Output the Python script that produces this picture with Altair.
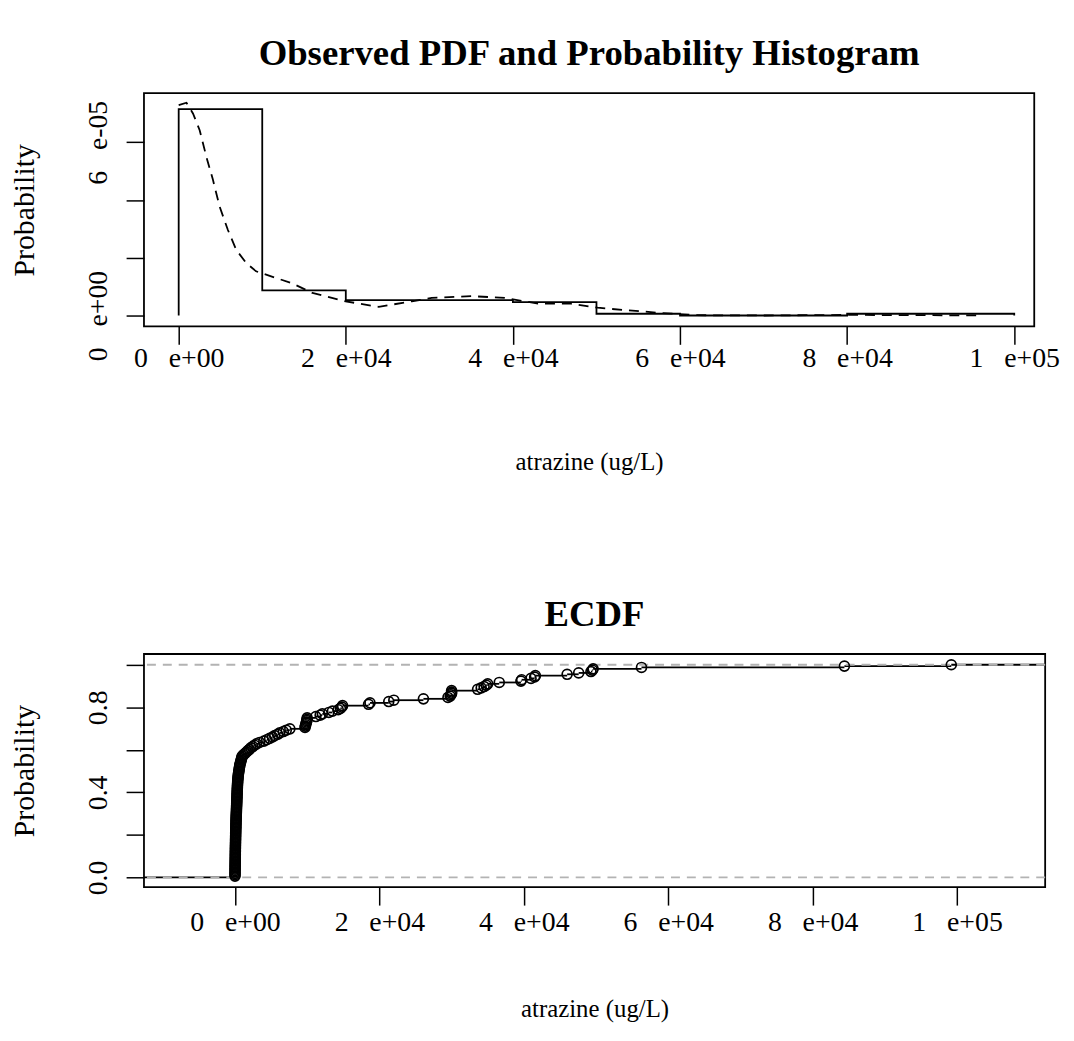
import altair as alt
import pandas as pd

NB = "\u00a0\u00a0\u00a0"

# ---------------- data ----------------
bin_edges = [0, 10000, 20000, 30000, 40000, 50000, 60000, 70000, 80000, 90000, 100000]
hist_density = [7.15e-5, 8.7e-6, 5.3e-6, 5.3e-6, 4.6e-6, 6e-7, 0.0, 0.0, 6e-7, 6e-7]

dens_x = [0, 930, 1710, 2510, 3310, 4100, 4890, 5880, 6880, 8070, 9260, 11240, 13620,
          16000, 19980, 23940, 27900, 30290, 35050, 39020, 43000, 46950, 50130, 51680,
          57630, 62000, 70000, 80000, 90000, 96000]
dens_y = [7.29e-5, 7.37e-5, 7.0e-5, 6.42e-5, 5.50e-5, 4.70e-5, 3.78e-5, 2.97e-5, 2.28e-5,
          1.82e-5, 1.53e-5, 1.34e-5, 1.11e-5, 7.8e-6, 4.9e-6, 3.0e-6, 4.9e-6, 6.1e-6,
          6.7e-6, 6.1e-6, 4.1e-6, 4.1e-6, 2.7e-6, 2.3e-6, 9e-7, 1e-7, 0.0, 2e-7, 1e-7, 0.0]

ecdf_values = [
    5, 8, 10, 12, 15, 18, 20, 22, 25, 28, 30, 33, 36, 40, 42, 45, 48, 50, 53, 56,
    60, 63, 66, 70, 74, 78, 80, 84, 88, 92, 96, 100, 105, 110, 115, 120, 125, 130,
    135, 140, 146, 152, 160, 166, 172, 180, 190, 200,
    205, 210, 218, 225, 232, 240, 248, 255, 262, 270, 278, 285, 292, 300, 308, 316,
    325, 334, 343, 352, 362, 372, 385, 400,
    420, 440, 460, 485, 510, 540, 570, 600, 630, 660, 700,
    750, 800, 850, 900, 950, 1000,
    1200, 1400, 1600, 1800, 2000, 2200, 2450, 2700, 3000, 3400, 4000, 4400, 4800,
    5200, 5500, 5900, 6200, 6700, 7100, 7600,
    9700, 9750, 9800, 9850, 9900, 9950, 9980, 10000,
    11200, 11800, 12100, 13000, 13500, 14300, 14600, 14800, 14900,
    18500, 18700, 21300, 22000, 26100, 29500,
    29800, 29900, 30000, 30000, 30000, 33600, 34100, 34500, 34800, 35000,
    36600, 39600, 39700, 41000, 41500, 41600, 46000, 47600,
    49300, 49500, 49600, 56300, 84400, 99200,
]

top_x_ticks = [0, 20000, 40000, 60000, 80000, 100000]
top_x_text = ["0" + NB + "e+00", "2" + NB + "e+04", "4" + NB + "e+04",
              "6" + NB + "e+04", "8" + NB + "e+04", "1" + NB + "e+05"]
top_y_ticks = [0, 2e-5, 4e-5, 6e-5]
top_y_text = ["0" + NB + "e+00", "", "", "6" + NB + "e-05"]
bot_y_ticks = [0, 0.2, 0.4, 0.6, 0.8, 1.0]
bot_y_text = ["0.0", "", "0.4", "", "0.8", ""]

FONT = "Liberation Serif"


def label_expr(vals, texts, tol):
    expr = "''"
    for v, t in reversed(list(zip(vals, texts))):
        expr = f"(abs(datum.value - ({v})) < {tol} ? '{t}' : {expr})"
    return expr


# ---------------- derived tables ----------------
hx, hy = [bin_edges[0]], [0.0]
for i, h in enumerate(hist_density):
    hx += [bin_edges[i], bin_edges[i + 1]]
    hy += [h, h]
hx.append(bin_edges[-1])
hy.append(0.0)
hist_df = pd.DataFrame({"x": hx, "y": hy, "o": list(range(len(hx)))})
dens_df = pd.DataFrame({"x": dens_x, "y": dens_y, "o": list(range(len(dens_x)))})

TOP_XDOM = [-4155, 102393]
TOP_YDOM = [-0.38e-5, 7.70e-5]
BOT_XDOM = [-12600, 112200]
BOT_YDOM = [-0.046, 1.0506]

vals = sorted(ecdf_values)
n = len(vals)
ps = [(i + 1) / n for i in range(n)]
seg_x = [BOT_XDOM[0]] + vals
seg_x2 = vals + [BOT_XDOM[1]]
seg_y = [0.0] + ps
seg_df = pd.DataFrame({"x": seg_x, "x2": seg_x2, "y": seg_y})
pts_df = pd.DataFrame({"x": vals, "y": ps})
hl_df = pd.DataFrame({"y": [0.0, 1.0]})

axis_common = dict(
    grid=False, domain=False, tickColor="black", tickWidth=1.5, tickSize=18,
    labelFont=FONT, labelFontSize=28, labelColor="black", titleFont=FONT,
    titleFontWeight="normal", titleColor="black",
    labelOverlap=False, labelFlush=False,
)


def xaxis(pad, tpad):
    return alt.Axis(values=top_x_ticks, labelExpr=label_expr(top_x_ticks, top_x_text, 1),
                    labelPadding=pad, titlePadding=tpad, title="atrazine (ug/L)",
                    titleFontSize=25, **axis_common)


def yaxis(ticks, texts, tol):
    return alt.Axis(values=ticks, labelExpr=label_expr(ticks, texts, tol),
                    labelAngle=270, labelAlign="center", labelBaseline="bottom",
                    labelPadding=14, titlePadding=45, title="Probability",
                    titleFontSize=30, **axis_common)


xs_top = alt.Scale(domain=TOP_XDOM, nice=False, zero=False)
ys_top = alt.Scale(domain=TOP_YDOM, nice=False, zero=False)

hist_line = alt.Chart(hist_df).mark_line(color="black", strokeWidth=1.8).encode(
    x=alt.X("x:Q", scale=xs_top, axis=xaxis(0, 78)),
    y=alt.Y("y:Q", scale=ys_top, axis=yaxis(top_y_ticks, top_y_text, 1e-10)),
    order="o:Q",
)
dens_line = alt.Chart(dens_df).mark_line(color="black", strokeWidth=1.8,
                                         strokeDash=[10, 7]).encode(
    x=alt.X("x:Q", scale=xs_top),
    y=alt.Y("y:Q", scale=ys_top),
    order="o:Q",
)

top = alt.layer(hist_line, dens_line).properties(
    width=897, height=235,
    title=alt.TitleParams("Observed PDF and Probability Histogram", font=FONT, fontSize=37,
                          fontWeight="bold", color="black", anchor="middle", offset=20),
)

xs_bot = alt.Scale(domain=BOT_XDOM, nice=False, zero=False)
ys_bot = alt.Scale(domain=BOT_YDOM, nice=False, zero=False)

segs = alt.Chart(seg_df).mark_rule(color="black", strokeWidth=1.8).encode(
    x=alt.X("x:Q", scale=xs_bot, axis=xaxis(4, 60)),
    x2="x2:Q",
    y=alt.Y("y:Q", scale=ys_bot, axis=yaxis(bot_y_ticks, bot_y_text, 1e-6)),
)
hlines = alt.Chart(hl_df).mark_rule(color="#b3b3b3", strokeWidth=1.8,
                                    strokeDash=[9, 7]).encode(
    y=alt.Y("y:Q", scale=ys_bot),
)
pts = alt.Chart(pts_df).mark_point(shape="circle", filled=False, color="black",
                                   strokeWidth=1.7, size=100, opacity=1).encode(
    x=alt.X("x:Q", scale=xs_bot),
    y=alt.Y("y:Q", scale=ys_bot),
)

bottom = alt.layer(segs, hlines, pts).properties(
    width=908, height=235,
    title=alt.TitleParams("ECDF", font=FONT, fontSize=37, fontWeight="bold",
                          color="black", anchor="middle", offset=20),
)

chart = alt.vconcat(top, bottom, spacing=121).properties(
    padding={"left": 1, "top": 23, "right": 5, "bottom": 5},
    background="white",
).configure_view(stroke="black", strokeWidth=1.8)

chart.save("out.html", embed_options={"renderer": "svg", "actions": False})
